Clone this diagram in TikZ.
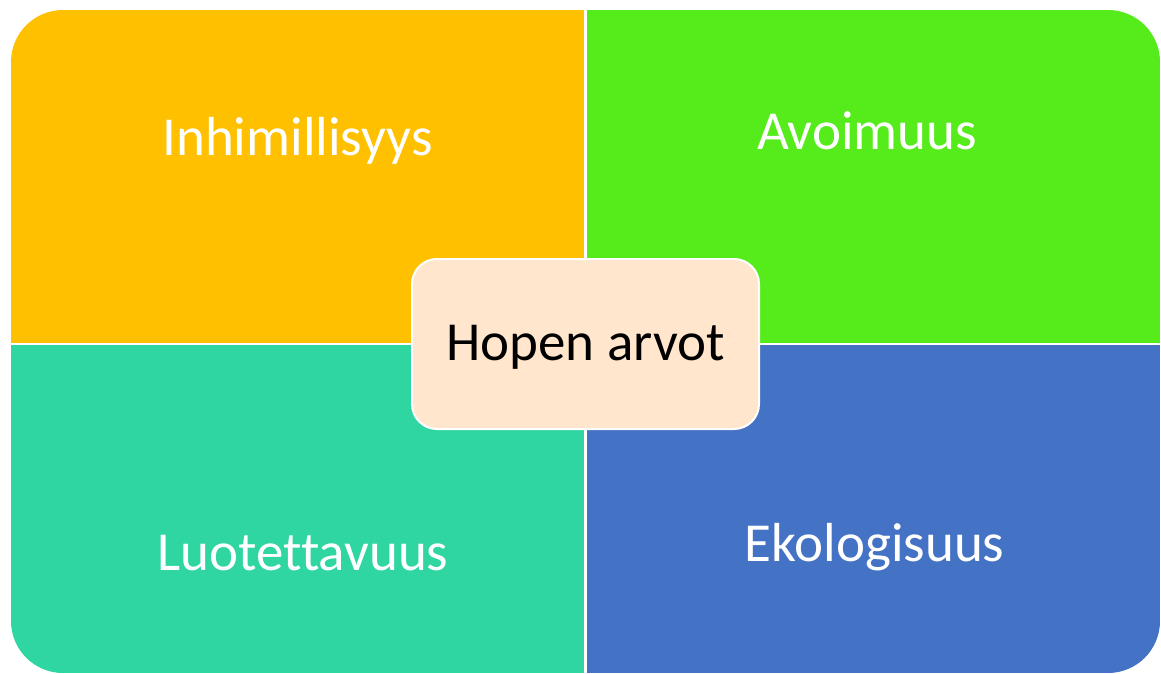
\documentclass[tikz,border=0pt]{standalone}
\usepackage{fontspec}
\setmainfont{Carlito}[Ligatures=NoCommon]
\definecolor{HAyellow}{RGB}{255,192,0}
\definecolor{HAgreen}{RGB}{86,235,26}
\definecolor{HAteal}{RGB}{47,214,162}
\definecolor{HAblue}{RGB}{68,114,196}
\definecolor{HAcream}{RGB}{255,230,204}
\tikzset{HAlab/.style={anchor=base,text=white,font=\fontsize{55}{60}\selectfont},
         HAcentre/.style={rectangle,rounded corners=25pt,draw=white,line width=2pt,fill=HAcream,
           minimum width=347pt,minimum height=170pt,text height=33pt,text depth=0pt,
           font=\fontsize{55}{60}\selectfont}}
\begin{document}
\begin{tikzpicture}[x=1pt,y=-1pt]
  \useasboundingbox (0,0) rectangle (1161,674);
  \begin{scope}
    \clip[rounded corners=52pt] (11,10) rectangle (1160,673);
    \foreach \c/\xa/\ya/\xb/\yb in {HAyellow/11/10/584.2/342.8,HAgreen/586.8/10/1160/342.8,
                                    HAteal/11/345.4/584.2/673,HAblue/586.8/345.4/1160/673}
      \fill[\c] (\xa,\ya) rectangle (\xb,\yb);
  \end{scope}
  \foreach \x/\y/\n/\t in {297.5/155/inh/Inhimillisyys,867/149.3/avo/Avoimuus,
                           303/570/luo/Luotettavuus,874.5/561/eko/Ekologisuus}
    \node[HAlab] (\n) at (\x,\y) {\t};
  \node[HAcentre] (arvot) at (585.5,344) {Hopen arvot};
\end{tikzpicture}
\end{document}
